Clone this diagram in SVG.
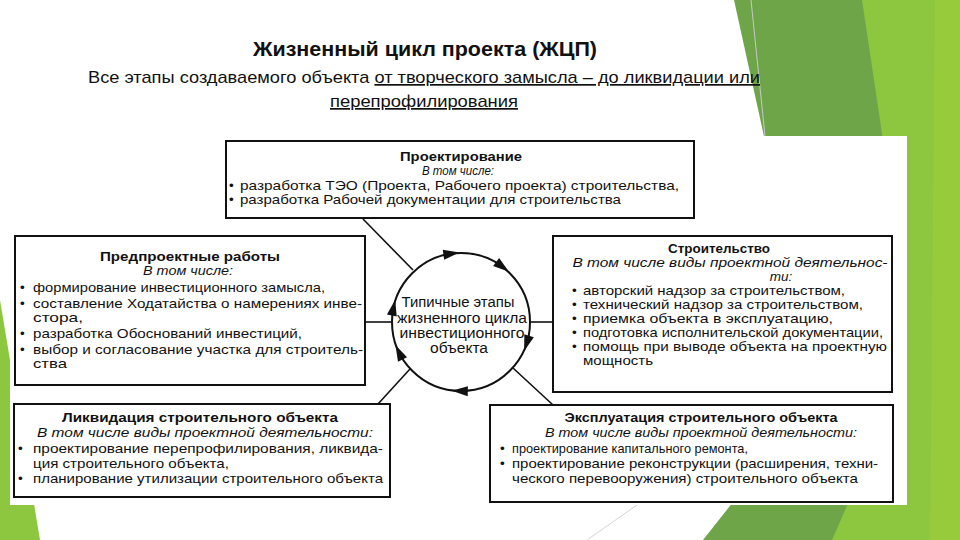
<svg xmlns="http://www.w3.org/2000/svg" xmlns:xlink="http://www.w3.org/1999/xlink" width="960" height="540" viewBox="0 0 960 540">
<style>
.t{font-family:"Liberation Sans",Arial,sans-serif;font-size:13.5px;fill:#111}
.c{font-size:14px}
.b{font-weight:bold}
.i{font-style:italic}
.m{text-anchor:middle}
.h{font-family:"Liberation Sans Narrow","Liberation Sans",Arial,sans-serif;fill:#111}
.u{text-decoration:underline}
.box{fill:#fff;stroke:#111;stroke-width:2}
.ln{stroke:#111;stroke-width:1.6;fill:none}
</style>
<defs>
<polygon id="ah" points="8,0 -8,-5 -8,5" fill="#111"/>
</defs>
<rect width="960" height="540" fill="#fff"/>
<g id="background">
<polygon points="862,0 960,0 960,540 830,540" fill="#8DC63F"/>
<polygon points="935,0 960,0 960,540 930,540" fill="#97CB3C"/>
<polygon points="734,0 862,0 907,300 800,300" fill="#6EA549"/>
<polygon points="703,540 832,540 880,430 790,430" fill="#6EA549"/>
<polygon points="0,300 40,540 0,540" fill="#8DC63F"/>
<line x1="751" y1="0" x2="765" y2="136" stroke="#c8c8c8" stroke-width="1"/>
<line x1="587" y1="540" x2="637" y2="505" stroke="#d4d4d4" stroke-width="1"/>
<rect x="10" y="136" width="897" height="369" fill="#fff"/>
</g>
<g id="header">
<text class="h b m" x="425" y="56" font-size="20" textLength="344" lengthAdjust="spacingAndGlyphs">Жизненный цикл проекта (ЖЦП)</text>
<text class="h" x="88" y="83" font-size="17" textLength="672" lengthAdjust="spacingAndGlyphs">Все этапы создаваемого объекта <tspan class="u">от творческого замысла – до ликвидации или</tspan></text>
<text class="h m u" x="424" y="107" font-size="17" textLength="188" lengthAdjust="spacingAndGlyphs">перепрофилирования</text>
</g>
<g id="connectors">
<line class="ln" x1="363" y1="219" x2="413" y2="270"/>
<line class="ln" x1="365" y1="322" x2="392" y2="322"/>
<line class="ln" x1="530" y1="322" x2="553" y2="322"/>
<line class="ln" x1="410" y1="369" x2="378" y2="404"/>
<line class="ln" x1="513" y1="368" x2="553" y2="405"/>
</g>
<g id="center">
<circle cx="461" cy="322" r="69" fill="#fff" stroke="#111" stroke-width="2"/>
<use xlink:href="#ah" transform="translate(461 322) rotate(-98) translate(69 0) rotate(90)"/>
<use xlink:href="#ah" transform="translate(461 322) rotate(-53) translate(69 0) rotate(90)"/>
<use xlink:href="#ah" transform="translate(461 322) rotate(18) translate(69 0) rotate(90)"/>
<use xlink:href="#ah" transform="translate(461 322) rotate(91) translate(69 0) rotate(90)"/>
<use xlink:href="#ah" transform="translate(461 322) rotate(154) translate(69 0) rotate(90)"/>
<use xlink:href="#ah" transform="translate(461 322) rotate(192) translate(69 0) rotate(90)"/>
<text class="t c m" x="458" y="307" textLength="113" lengthAdjust="spacingAndGlyphs">Типичные этапы</text>
<text class="t c m" x="462" y="323" textLength="130" lengthAdjust="spacingAndGlyphs">жизненного цикла</text>
<text class="t c m" x="462" y="338" textLength="125" lengthAdjust="spacingAndGlyphs">инвестиционного</text>
<text class="t c m" x="459" y="353" textLength="58" lengthAdjust="spacingAndGlyphs">объекта</text>
</g>
<g id="design">
<rect class="box" x="226" y="141" width="468" height="77"/>
<text class="t b m" x="461" y="161" textLength="122" lengthAdjust="spacingAndGlyphs">Проектирование</text>
<text class="t i m" x="458" y="175" textLength="72" lengthAdjust="spacingAndGlyphs">В том числе:</text>
<text class="t" x="229" y="190">•</text>
<text class="t" x="240" y="190" textLength="439" lengthAdjust="spacingAndGlyphs">разработка ТЭО (Проекта, Рабочего проекта) строительства,</text>
<text class="t" x="229" y="204">•</text>
<text class="t" x="240" y="204" textLength="381" lengthAdjust="spacingAndGlyphs">разработка Рабочей документации для строительства</text>
</g>
<g id="preproject">
<rect class="box" x="15" y="236" width="350" height="149"/>
<text class="t b m" x="190" y="261" textLength="180" lengthAdjust="spacingAndGlyphs">Предпроектные работы</text>
<text class="t i m" x="188" y="275" textLength="90" lengthAdjust="spacingAndGlyphs">В том числе:</text>
<text class="t" x="20" y="292">•</text>
<text class="t" x="33" y="292" textLength="292" lengthAdjust="spacingAndGlyphs">формирование инвестиционного замысла,</text>
<text class="t" x="20" y="307.5">•</text>
<text class="t" x="33" y="307.5" textLength="329" lengthAdjust="spacingAndGlyphs">составление Ходатайства о намерениях инве-</text>
<text class="t" x="33" y="322" textLength="50" lengthAdjust="spacingAndGlyphs">стора,</text>
<text class="t" x="20" y="338">•</text>
<text class="t" x="33" y="338" textLength="269" lengthAdjust="spacingAndGlyphs">разработка Обоснований инвестиций,</text>
<text class="t" x="20" y="354">•</text>
<text class="t" x="33" y="354" textLength="330" lengthAdjust="spacingAndGlyphs">выбор и согласование участка для строитель-</text>
<text class="t" x="33" y="368" textLength="34" lengthAdjust="spacingAndGlyphs">ства</text>
</g>
<g id="construction">
<rect class="box" x="553" y="236" width="339" height="156"/>
<text class="t b m" x="719" y="253" textLength="102" lengthAdjust="spacingAndGlyphs">Строительство</text>
<text class="t i m" x="730" y="267" textLength="315" lengthAdjust="spacingAndGlyphs">В том числе виды проектной деятельнос-</text>
<text class="t i m" x="781" y="281">ти:</text>
<text class="t" x="572" y="295">•</text>
<text class="t" x="583" y="295" textLength="262" lengthAdjust="spacingAndGlyphs">авторский надзор за строительством,</text>
<text class="t" x="572" y="309">•</text>
<text class="t" x="583" y="309" textLength="280" lengthAdjust="spacingAndGlyphs">технический надзор за строительством,</text>
<text class="t" x="572" y="323">•</text>
<text class="t" x="583" y="323" textLength="250" lengthAdjust="spacingAndGlyphs">приемка объекта в эксплуатацию,</text>
<text class="t" x="572" y="337">•</text>
<text class="t" x="583" y="337" textLength="300" lengthAdjust="spacingAndGlyphs">подготовка исполнительской документации,</text>
<text class="t" x="572" y="351">•</text>
<text class="t" x="583" y="351" textLength="304" lengthAdjust="spacingAndGlyphs">помощь при выводе объекта на проектную</text>
<text class="t" x="583" y="365" textLength="70" lengthAdjust="spacingAndGlyphs">мощность</text>
</g>
<g id="liquidation">
<rect class="box" x="14" y="404" width="376" height="93"/>
<text class="t b m" x="200" y="422" textLength="276" lengthAdjust="spacingAndGlyphs">Ликвидация строительного объекта</text>
<text class="t i m" x="205" y="437" textLength="336" lengthAdjust="spacingAndGlyphs">В том числе виды проектной деятельности:</text>
<text class="t" x="18" y="453">•</text>
<text class="t" x="33" y="453" textLength="350" lengthAdjust="spacingAndGlyphs">проектирование  перепрофилирования,  ликвида-</text>
<text class="t" x="33" y="468" textLength="196" lengthAdjust="spacingAndGlyphs">ция строительного объекта,</text>
<text class="t" x="18" y="483">•</text>
<text class="t" x="33" y="483" textLength="350" lengthAdjust="spacingAndGlyphs">планирование утилизации строительного объекта</text>
</g>
<g id="operation">
<rect class="box" x="490" y="405" width="403" height="97"/>
<text class="t b m" x="701" y="422" textLength="273" lengthAdjust="spacingAndGlyphs">Эксплуатация строительного объекта</text>
<text class="t i m" x="701" y="437" textLength="312" lengthAdjust="spacingAndGlyphs">В том числе виды проектной деятельности:</text>
<text class="t" x="500" y="453">•</text>
<text class="t" x="512" y="453" textLength="236" lengthAdjust="spacingAndGlyphs">проектирование капитального ремонта,</text>
<text class="t" x="500" y="468">•</text>
<text class="t" x="512" y="468" textLength="366" lengthAdjust="spacingAndGlyphs">проектирование реконструкции (расширения, техни-</text>
<text class="t" x="512" y="483" textLength="346" lengthAdjust="spacingAndGlyphs">ческого перевооружения) строительного объекта</text>
</g>
</svg>
